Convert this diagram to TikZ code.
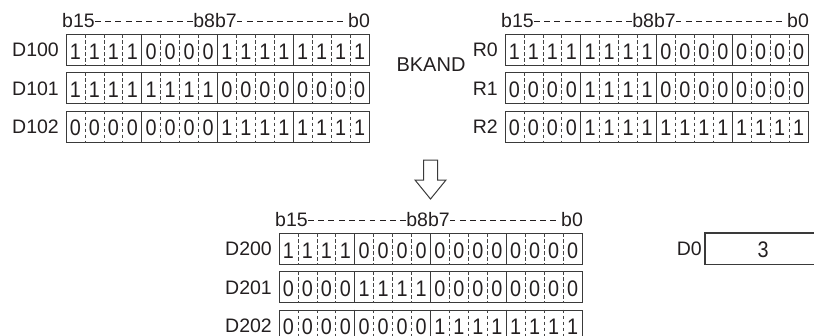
\documentclass[tikz,border=0pt]{standalone}
\usepackage{fontspec}
\setmainfont{Liberation Sans}
\newfontfamily\digitfont[FakeStretch=0.88]{Liberation Sans}
\usetikzlibrary{calc}
\definecolor{ink}{HTML}{231F20}
\definecolor{frame}{HTML}{3A3A3A}
\definecolor{sepgray}{HTML}{444444}

\newcommand\cw{18.9375}
\newcommand\bitreg[5]{%
  \node[regbox, anchor=north west] (#1) at (#3,#4) {};
  \foreach \i in {1,...,15} {
    \pgfmathtruncatemacro\m{mod(\i,4)}
    \ifnum\m=0
      \draw[nibsep] ([xshift={\i*\cw pt}]#1.north west) -- ([xshift={\i*\cw pt}]#1.south west);
    \else
      \draw[bitsep] ([xshift={\i*\cw pt}]#1.north west) -- ([xshift={\i*\cw pt}]#1.south west);
    \fi
  }
  \foreach \b [count=\i] in {#5}
    \node[digit] (#1-\i) at ([xshift={(\i-0.5)*\cw pt}, yshift=-1.5pt]#1.west) {\b};
  \node[lbl, anchor=east] (#1-lab) at ([xshift=-7pt]#1.west) {#2};
}
% dashed line whose both ends are full dashes
\newcommand\fitdash[2]{%
  \path let \p1=(#1), \p2=(#2), \n1={\x2-\x1},
        \n2={max(1,round((\n1+4.5pt)/10.5pt))},
        \n3={(\n1+4.5pt)/\n2-4.5pt} in
        [draw=ink, line width=0.8pt, dash pattern=on \n3 off 4.5pt] (\p1) -- (\p2);
}
\newcommand\bithead[1]{%
  \node[hdr, anchor=base west] (#1-h15) at ([xshift=-4pt, yshift=6.5pt]#1.north west) {b15};
  \node[hdr, anchor=base] (#1-h8) at ([xshift=-3pt, yshift=6.5pt]#1.north) {b8b7};
  \node[hdr, anchor=base east] (#1-h0) at ([yshift=6.5pt]#1.north east) {b0};
  \fitdash{[yshift=6pt]#1-h15.base east}{[yshift=6pt]#1-h8.base west}
  \fitdash{[yshift=6pt]#1-h8.base east}{[xshift=-5pt, yshift=6pt]#1-h0.base west}
}

\begin{document}
\begin{tikzpicture}[x=1pt, y=-1pt,
  regbox/.style={draw=frame, line width=1.1pt, minimum width=303pt, minimum height=31pt, inner sep=0pt},
  nibsep/.style={draw=frame, line width=1.0pt},
  bitsep/.style={draw=sepgray, line width=0.7pt, dash pattern=on 3.5pt off 2.5pt},
  digit/.style={text=ink, inner sep=0pt, font=\digitfont\fontsize{22.5}{24}\selectfont},
  lbl/.style={text=ink, inner sep=0pt, font=\fontsize{19.5}{22}\selectfont},
  hdr/.style={text=ink, inner sep=0pt, font=\fontsize{19.5}{22}\selectfont},
  bigarrow/.style={draw=frame, line width=1pt, fill=white, line join=miter}]
\useasboundingbox (0,0) rectangle (814,335);

% top-left registers
\bitreg{D100}{D100}{66}{34}{1,1,1,1,0,0,0,0,1,1,1,1,1,1,1,1}
\bitreg{D101}{D101}{66}{72.3}{1,1,1,1,1,1,1,1,0,0,0,0,0,0,0,0}
\bitreg{D102}{D102}{66}{110.6}{0,0,0,0,0,0,0,0,1,1,1,1,1,1,1,1}
\bithead{D100}

% operator
\node[lbl, font=\fontsize{20}{22}\selectfont] (op) at (431,64.5) {BKAND};

% top-right registers
\bitreg{R0}{R0}{505}{34}{1,1,1,1,1,1,1,1,0,0,0,0,0,0,0,0}
\bitreg{R1}{R1}{505}{72.3}{0,0,0,0,1,1,1,1,0,0,0,0,0,0,0,0}
\bitreg{R2}{R2}{505}{110.6}{0,0,0,0,1,1,1,1,1,1,1,1,1,1,1,1}
\bithead{R0}

% arrow
\draw[bigarrow] (423.5,160) -- (437.5,160) -- (437.5,180) -- (446,180) -- (430.5,199) -- (415,180) -- (423.5,180) -- cycle;

% result registers
\bitreg{D200}{D200}{279}{233}{1,1,1,1,0,0,0,0,0,0,0,0,0,0,0,0}
\bitreg{D201}{D201}{279}{271.3}{0,0,0,0,1,1,1,1,0,0,0,0,0,0,0,0}
\bitreg{D202}{D202}{279}{309.6}{0,0,0,0,0,0,0,0,1,1,1,1,1,1,1,1}
\bithead{D200}

% D0
\node[minimum width=109pt, minimum height=31pt, inner sep=0pt, anchor=north west] (d0box) at (705,233) {};
\draw[frame, line width=1.1pt] (d0box.north east) -- (d0box.north west) -- (d0box.south west) -- (d0box.south east);
\node[digit] (d0val) at ([xshift=58pt, yshift=-1pt]d0box.west) {3};
\node[lbl, anchor=east] (d0lab) at ([xshift=-3pt]d0box.west) {D0};
\end{tikzpicture}
\end{document}
